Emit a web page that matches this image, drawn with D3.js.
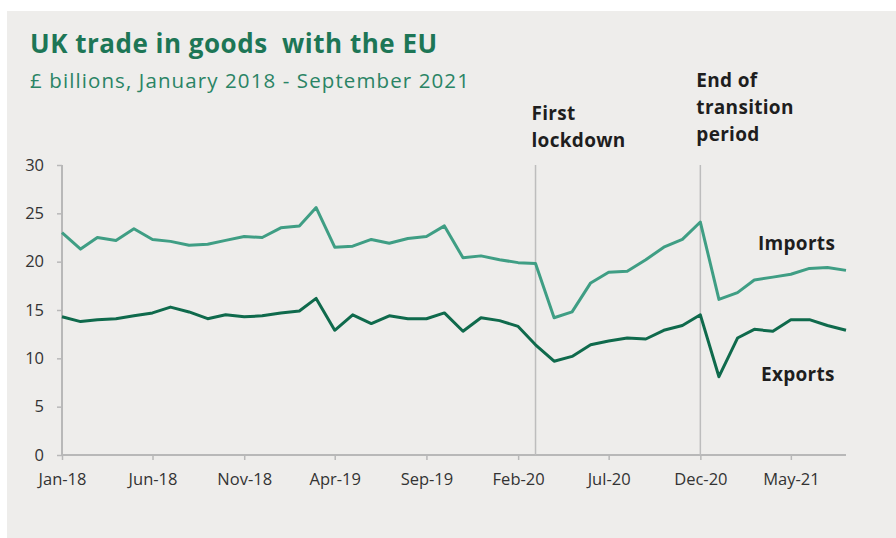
<!DOCTYPE html>
<html>
<head>
<meta charset="utf-8">
<script src="https://cdn.jsdelivr.net/npm/d3@7"></script>
<style>
  html, body { margin: 0; padding: 0; background: #ffffff; }
  svg { display: block; }
</style>
</head>
<body>
<div id="chart"></div>
<script>
// monthly values, Jan 2018 onwards (GBP billions)
var imports = [23.0, 21.3, 22.5, 22.2, 23.4, 22.3, 22.1, 21.7, 21.8, 22.2, 22.6, 22.5,
  23.5, 23.7, 25.6, 21.5, 21.6, 22.3, 21.9, 22.4, 22.6, 23.7, 20.4, 20.6,
  20.2, 19.9, 19.8, 14.2, 14.8, 17.8, 18.9, 19.0, 20.2, 21.5, 22.3, 24.1,
  16.1, 16.8, 18.1, 18.4, 18.7, 19.3, 19.4, 19.1];
var exports = [14.3, 13.8, 14.0, 14.1, 14.4, 14.7, 15.3, 14.8, 14.1, 14.5, 14.3, 14.4,
  14.7, 14.9, 16.2, 12.9, 14.5, 13.6, 14.4, 14.1, 14.1, 14.7, 12.8, 14.2,
  13.9, 13.3, 11.4, 9.7, 10.2, 11.4, 11.8, 12.1, 12.0, 12.9, 13.4, 14.5,
  8.1, 12.1, 13.0, 12.8, 14.0, 14.0, 13.4, 12.9];
var yTicks = [0, 5, 10, 15, 20, 25, 30];
var events = [
  { month: '2020-03', lines: ['First', 'lockdown'] },
  { month: '2020-12', lines: ['End of', 'transition', 'period'] }
];

var W = 896, H = 538;
var COLOR_IMPORTS = '#3f9e84',
  COLOR_EXPORTS = '#0f6a4c',
  COLOR_TITLE = '#1d7656',
  COLOR_AXIS = '#b8b8b8',
  COLOR_TEXT = '#1e1e1e';

var parseMonth = d3.timeParse('%Y-%m');
var start = parseMonth('2018-01');
var months = d3.timeMonth.range(start, d3.timeMonth.offset(start, imports.length));

var svg = d3.select('#chart').append('svg').attr('width', W).attr('height', H);

svg.append('rect').attr('x', 7).attr('y', 11).attr('width', W - 7).attr('height', H - 11)
  .attr('fill', '#eeedeb');

svg.append('text').text('UK trade in goods\u00a0 with the EU')
  .attr('x', 30).attr('y', 53)
  .attr('font-family', 'Open Sans').attr('font-weight', 'bold').attr('font-size', '26px')
  .attr('letter-spacing', '0.5px')
  .attr('fill', COLOR_TITLE);
svg.append('text').text('£ billions, January 2018 - September 2021')
  .attr('x', 30).attr('y', 88)
  .attr('font-family', 'Open Sans').attr('font-size', '20.5px')
  .attr('letter-spacing', '1.1px')
  .attr('fill', '#2a8465');

var x = d3.scaleTime().domain([months[0], months[months.length - 1]]).range([62, 846]);
var y = d3.scaleLinear().domain([0, 30]).range([455, 165]);

// y axis
var yAxis = svg.append('g').attr('transform', 'translate(62,0)')
  .call(d3.axisLeft(y).tickValues(yTicks).tickSize(5).tickPadding(13));
// x axis
var xAxis = svg.append('g').attr('transform', 'translate(0,455)')
  .call(d3.axisBottom(x)
    .tickValues(months.filter(function (d, i) { return i % 5 === 0; }))
    .tickFormat(d3.timeFormat('%b-%y'))
    .tickSize(5).tickPadding(13));

[yAxis, xAxis].forEach(function (g) {
  g.select('.domain').attr('stroke', COLOR_AXIS).attr('stroke-width', 2);
  g.selectAll('.tick line').attr('stroke', COLOR_AXIS).attr('stroke-width', 1.5);
  g.selectAll('.tick text')
    .attr('fill', '#333')
    .attr('font-family', 'Open Sans')
    .attr('font-size', '16.5px');
});
// axisLeft domain has an outer tick; redraw plain
yAxis.select('.domain').attr('d', 'M0,' + y(30) + 'V' + y(0));
xAxis.select('.domain').attr('d', 'M' + x(months[0]) + ',0H' + x(months[months.length - 1]));

// event lines
events.forEach(function (ev) {
  var xe = x(parseMonth(ev.month));
  svg.append('line')
    .attr('x1', xe).attr('x2', xe)
    .attr('y1', y(30)).attr('y2', y(0))
    .attr('stroke', '#bdbdbd').attr('stroke-width', 1.5);
});

var line = d3.line()
  .x(function (d, i) { return x(months[i]); })
  .y(function (d) { return y(d); });

svg.append('path').datum(imports).attr('d', line)
  .attr('fill', 'none').attr('stroke', COLOR_IMPORTS).attr('stroke-width', 3)
  .attr('stroke-linejoin', 'round');
svg.append('path').datum(exports).attr('d', line)
  .attr('fill', 'none').attr('stroke', COLOR_EXPORTS).attr('stroke-width', 3)
  .attr('stroke-linejoin', 'round');

// annotations
var labelFont = function (sel) {
  sel.attr('font-family', 'Open Sans').attr('font-weight', 'bold')
    .attr('font-size', '19px').attr('letter-spacing', '0.3px').attr('fill', COLOR_TEXT);
};
events.forEach(function (ev, j) {
  var xe = x(parseMonth(ev.month)) - 4;
  var bottom = 147;
  ev.lines.forEach(function (t, k) {
    svg.append('text').text(t)
      .attr('x', xe)
      .attr('y', bottom - (ev.lines.length - 1 - k) * 27 - (j === 1 ? 6 : 0))
      .call(labelFont);
  });
});
svg.append('text').text('Imports').attr('x', 758).attr('y', 250).call(labelFont);
svg.append('text').text('Exports').attr('x', 761).attr('y', 381).call(labelFont);
</script>
</body>
</html>
